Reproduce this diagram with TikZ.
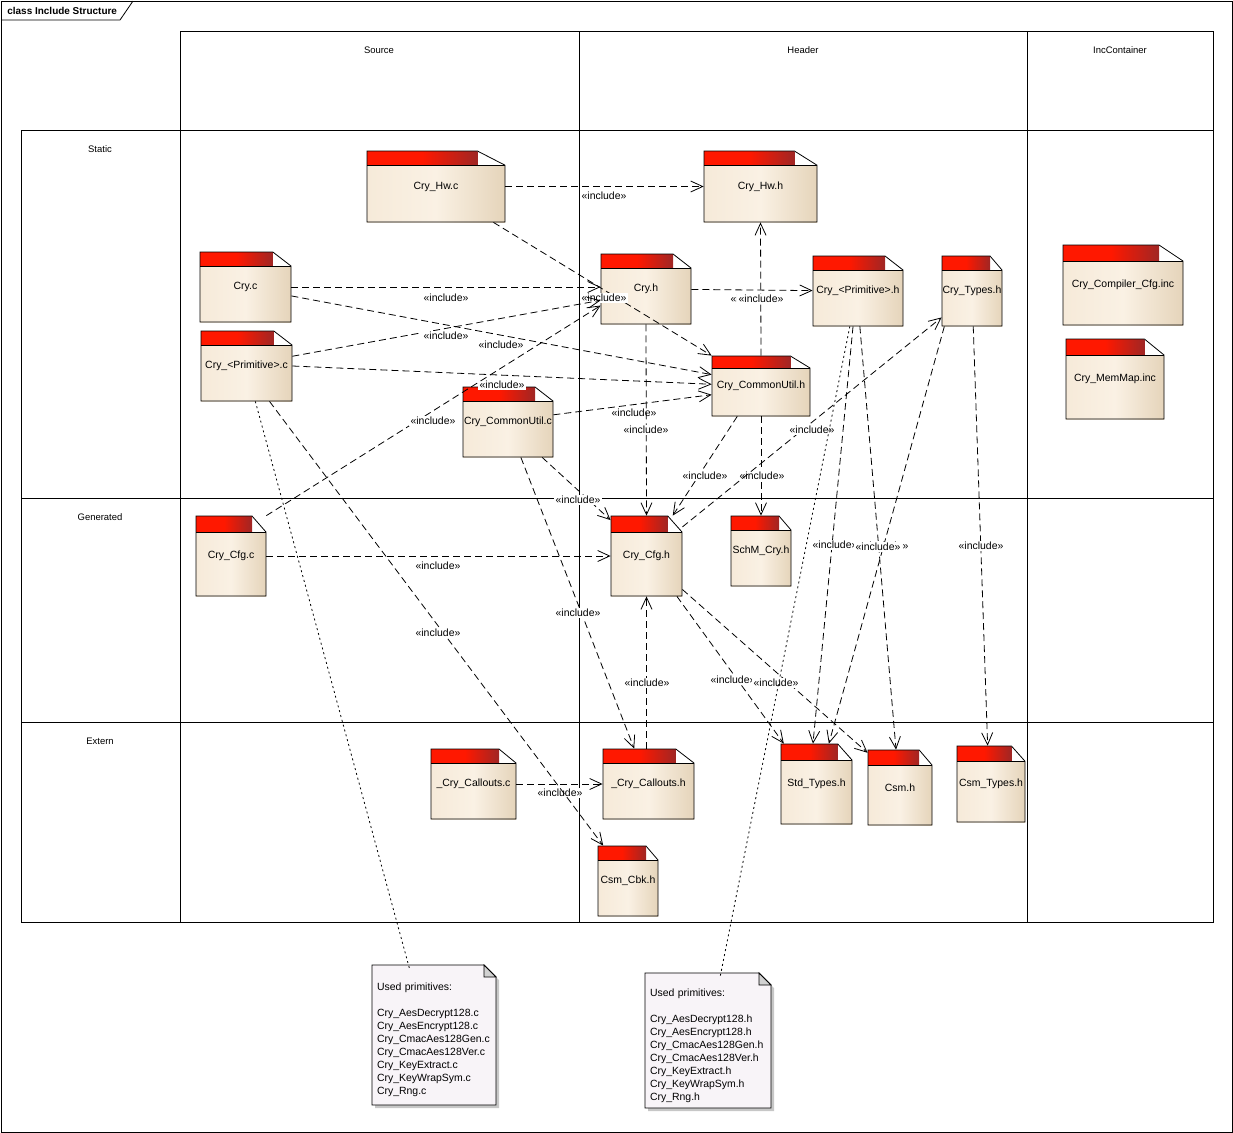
\documentclass[tikz,border=0pt]{standalone}
\usepackage{fontspec}
\setmainfont{Liberation Sans}
\usetikzlibrary{arrows.meta}

\definecolor{tabred}{RGB}{255,24,0}
\definecolor{tabdark}{RGB}{160,38,36}
\definecolor{bodyA}{RGB}{246,234,217}
\definecolor{bodyB}{RGB}{250,241,228}
\definecolor{bodyC}{RGB}{229,212,186}
\definecolor{notefill}{RGB}{248,244,248}

% file element: name, left, top, right, bottom, text
\newcommand{\cfile}[6]{%
	\shade[left color=bodyA, right color=bodyC, middle color=bodyB] (#2,{#3+0.2*(#5-#3)}) rectangle (#4,#5);
	\shade[left color=tabred, right color=tabdark, middle color=tabred] (#2,#3) rectangle ({#4-0.2*(#4-#2)},{#3+0.2*(#5-#3)});
	\draw (#2,{#3+0.2*(#5-#3)}) -- (#2,#3) -- ({#4-0.2*(#4-#2)},#3) -- (#4,{#3+0.2*(#5-#3)}) -- (#4,#5) -- (#2,#5) -- cycle;
	\draw (#2,{#3+0.2*(#5-#3)}) -- (#4,{#3+0.2*(#5-#3)});
	\node[fname, minimum width={(#4-#2)*1bp}, minimum height={(#5-#3)*1bp}] (#1) at ({(#2+#4)/2},{(#3+#5)/2}) {#6};
}
% note element: name, left, top, right, bottom, text
\newcommand{\cnote}[6]{%
	\fill[black!22] ({#2+3},{#3+3}) -- ({#4-9},{#3+3}) -- ({#4+3},{#3+15}) -- ({#4+3},{#5+3}) -- ({#2+3},{#5+3}) -- cycle;
	\filldraw[fill=notefill] (#2,#3) -- ({#4-12},#3) -- (#4,{#3+12}) -- (#4,#5) -- (#2,#5) -- cycle;
	\filldraw[fill=black!18] ({#4-12},#3) -- ({#4-12},{#3+12}) -- (#4,{#3+12}) -- cycle;
	\node[ntext, minimum width={(#4-#2)*1bp}, minimum height={(#5-#3)*1bp}, text width={(#4-#2-10)*1bp}] (#1) at ({(#2+#4)/2},{(#3+#5)/2+5}) {#6};
}

\begin{document}
\begin{tikzpicture}[x=1bp, y=-1bp, line width=0.8bp,
	fname/.style={inner sep=0pt, align=center},
	lbl/.style={fill=white, inner sep=1.5bp},
	dep/.style={dash pattern=on 7bp off 4bp, -{Straight Barb[length=12bp, width=11bp]}},
	trace/.style={dash pattern=on 2bp off 3bp},
	ntext/.style={inner xsep=5bp, inner ysep=0pt, align=left},
	lane/.style={font=\fontsize{9.5}{11}\selectfont}]
	\useasboundingbox (0,0) rectangle (1233,1133);
	\fontsize{10.5}{13}\selectfont

	% frame
	\draw (1,1) rectangle (1232,1132);
	\draw (1,20) -- (120,20) -- (133,1);
	\node[anchor=west, inner sep=0pt, font=\fontsize{10}{12}\selectfont\bfseries] (title) at (7,11) {class Include Structure};

	% swimlanes
	\draw (180,31) rectangle (1213,130);
	\draw (21,130) rectangle (1213,922);
	\draw (180,31) -- (180,922);
	\draw (579,31) -- (579,922);
	\draw (1027,31) -- (1027,922);
	\draw (21,498) -- (1213,498);
	\draw (21,722) -- (1213,722);
	\node[lane] (colSrc) at (379,50) {Source};
	\node[lane] (colHdr) at (803,50) {Header};
	\node[lane] (colInc) at (1120,50) {IncContainer};
	\node[lane] (rowSta) at (100,149) {Static};
	\node[lane] (rowGen) at (100,517) {Generated};
	\node[lane] (rowExt) at (100,741) {Extern};

	% files
	\cfile{crHwc}{367}{151}{505}{222}{Cry\_Hw.c}
	\cfile{crHwh}{704}{151}{817}{222}{Cry\_Hw.h}
	\cfile{cryc}{200}{252}{291}{322}{Cry.c}
	\cfile{prmc}{201}{331}{292}{401}{Cry\_<Primitive>.c}
	\cfile{cutc}{463}{387}{553}{457}{Cry\_CommonUtil.c}
	\cfile{cryh}{601}{254}{691}{324}{Cry.h}
	\cfile{cuth}{712}{356}{810}{416}{Cry\_CommonUtil.h}
	\cfile{prmh}{813}{256}{903}{326}{Cry\_<Primitive>.h}
	\cfile{typh}{942}{256}{1002}{326}{Cry\_Types.h}
	\cfile{ccfg}{1063}{245}{1183}{325}{Cry\_Compiler\_Cfg.inc}
	\cfile{mmap}{1066}{339}{1164}{419}{Cry\_MemMap.inc}
	\cfile{cfgc}{196}{516}{266}{596}{Cry\_Cfg.c}
	\cfile{cfgh}{611}{516}{682}{596}{Cry\_Cfg.h}
	\cfile{schm}{731}{516}{791}{586}{SchM\_Cry.h}
	\cfile{cbc}{431}{749}{516}{819}{\_Cry\_Callouts.c}
	\cfile{cbh}{603}{749}{694}{819}{\_Cry\_Callouts.h}
	\cfile{cbk}{598}{846}{658}{916}{Csm\_Cbk.h}
	\cfile{stdh}{781}{744}{852}{824}{Std\_Types.h}
	\cfile{csmh}{868}{750}{932}{825}{Csm.h}
	\cfile{ctyh}{957}{746}{1025}{822}{Csm\_Types.h}

	% notes
	\cnote{primC}{372}{965}{496}{1105}{Used primitives:\\[13bp]Cry\_AesDecrypt128.c\\Cry\_AesEncrypt128.c\\Cry\_CmacAes128Gen.c\\Cry\_CmacAes128Ver.c\\Cry\_KeyExtract.c\\Cry\_KeyWrapSym.c\\Cry\_Rng.c}
	\cnote{primH}{645}{973}{771}{1108}{Used primitives:\\[13bp]Cry\_AesDecrypt128.h\\Cry\_AesEncrypt128.h\\Cry\_CmacAes128Gen.h\\Cry\_CmacAes128Ver.h\\Cry\_KeyExtract.h\\Cry\_KeyWrapSym.h\\Cry\_Rng.h}

	% includes
	\draw[dep] (crHwc) -- (crHwh) node[lbl] (i1) at (604,196) {«include»};
	\draw[dep] (crHwc.-32) -- (cuth.north west) node[lbl] (i2) at (604,298) {«include»};
	\draw[dep] (cryc.east) -- (cryc.east -| cryh.west) node[lbl] (i3) at (446,298) {«include»};
	\draw[dep] (cryc.-11) -- (cuth.167) node[lbl] (i4) at (501,345) {«include»};
	\draw[dep] (prmc.12) -- (cryh.194) node[lbl] (i5) at (446,336) {«include»};
	\draw[dep] (prmc.east) -- (cuth.178) node[lbl] (i6) at (502,385) {«include»};
	\draw[dep] (cfgc.north east) -- (cryh.200) node[lbl] (i7) at (433,421) {«include»};
	\draw[dep] (cutc.9) -- (cuth.190) node[lbl] (i8) at (634,413) {«include»};
	\draw[dep] (cryh) -- (prmh) node[lbl] (i9) at (753,299) {«include»};
	\draw[dep] (cuth.north) -- (crHwh.south) node[lbl] (i10) at (761,299) {«include»};
	\draw[dep] (cuth.south) -- (schm.north) node[lbl] (i11) at (762,476) {«include»};
	\draw[dep] (cuth.232) -- (cfgh.57) node[lbl] (i12) at (705,476) {«include»};
	\draw[dep] (cryh.south) -- (cfgh.north) node[lbl] (i13) at (646,430) {«include»};
	\draw[dep] (cutc.-46) -- (cfgh.135) node[lbl] (i14) at (578,500) {«include»};
	\draw[dep] (cutc.-70) -- (cbh.112) node[lbl] (i15) at (578,613) {«include»};
	\draw[dep] (cfgc) -- (cfgh) node[lbl] (i16) at (438,566) {«include»};
	\draw[dep] (cbc) -- (cbh) node[lbl] (i17) at (560,793) {«include»};
	\draw[dep] (prmc.-57) -- (cbk.125) node[lbl] (i18) at (438,633) {«include»};
	\draw[dep] (cfgh.39) -- (typh.221) node[lbl] (i19) at (812,430) {«include»};
	\draw[dep] (prmh.262) -- (stdh.95) node[lbl] (i20) at (835,545) {«include»};
	\draw[dep] (prmh.-87) -- (csmh.96) node[lbl] (i21) at (886,546) {«include»};
	\draw[dep] (typh.232) -- (stdh.73) node[lbl] (i22) at (878,547) {«include»};
	\draw[dep] (typh.-88) -- (ctyh.95) node[lbl] (i23) at (981,546) {«include»};
	\draw[dep] (cfgh.south |- cbh.north) -- (cfgh.south) node[lbl] (i24) at (647,683) {«include»};
	\draw[dep] (cfgh.-53) -- (stdh.129) node[lbl] (i25) at (733,680) {«include»};
	\draw[dep] (cfgh.-43) -- (csmh.133) node[lbl] (i26) at (776,683) {«include»};

	% note links
	\draw[trace] (prmc.-76) -- (primC.109);
	\draw[trace] (prmh.257) -- (primH.80);
\end{tikzpicture}
\end{document}
